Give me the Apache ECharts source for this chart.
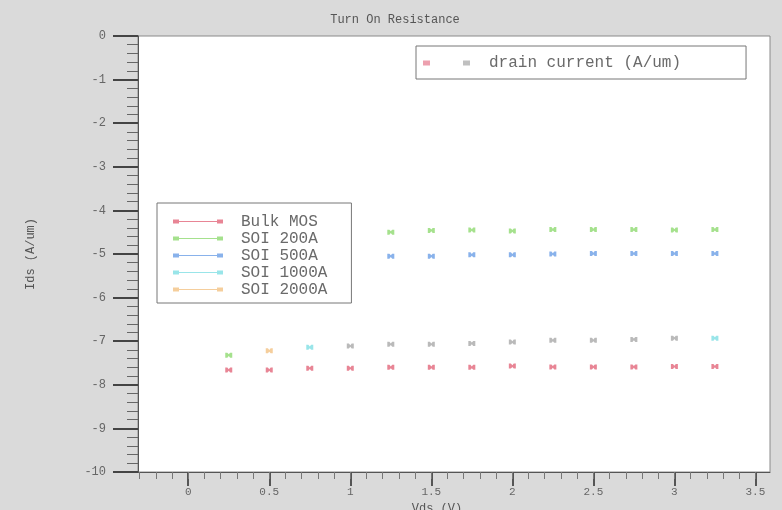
<!DOCTYPE html>
<html><head><meta charset="utf-8">
<script src="https://cdn.jsdelivr.net/npm/echarts@6/dist/echarts.min.js"></script>
<style>html,body{margin:0;padding:0;background:#dadada;}#c{width:782px;height:510px;}</style>
</head><body><div id="c"></div>
<script>
const xValues = [0.25,0.5,0.75,1.0,1.25,1.5,1.75,2.0,2.25,2.5,2.75,3.0,3.25];
const bulkMOS = [-7.66,-7.66,-7.62,-7.62,-7.60,-7.60,-7.60,-7.57,-7.59,-7.59,-7.59,-7.58,-7.58];
const soi200X = [0.25,1.25,1.5,1.75,2.0,2.25,2.5,2.75,3.0,3.25];
const soi200 = [-7.32,-4.50,-4.46,-4.45,-4.47,-4.44,-4.44,-4.44,-4.45,-4.44];
const soi500X = [1.25,1.5,1.75,2.0,2.25,2.5,2.75,3.0,3.25];
const soi500 = [-5.05,-5.05,-5.02,-5.02,-5.00,-4.99,-4.99,-4.99,-4.99];
const soi1000X = [0.75,3.25];
const soi1000 = [-7.14,-6.93];
const soi2000X = [0.5];
const soi2000 = [-7.22];
const drainX = [1.0,1.25,1.5,1.75,2.0,2.25,2.5,2.75,3.0];
const drain = [-7.11,-7.07,-7.07,-7.05,-7.02,-6.98,-6.98,-6.96,-6.93];
const xTicks = [0,0.5,1,1.5,2,2.5,3,3.5];
const yTicks = [0,-1,-2,-3,-4,-5,-6,-7,-8,-9,-10];
const xMinor = [];
for (let i = -3; i <= 35; i++) xMinor.push(i / 10);

const pair = (xs, ys) => xs.map((x, i) => [x, ys[i]]);
const mono = 'Liberation Mono';
const marker = 'path://M0,0L3,0L5,2L7,0L10,0L10,6L7,6L5,4L3,6L0,6Z';
const legendIcon = 'path://M0,3.5L50,3.5L50,4.5L0,4.5Z M0,2L6,2L6,6L0,6Z M44,2L50,2L50,6L44,6Z';
const colors = {bulk:'#e2667a', s200:'#8ed970', s500:'#6b9fe6', s1000:'#7fdfe3', s2000:'#f3c283', drain:'#a9a9a9'};

function sc(name, data, color) {
  return {type:'scatter', name, data, symbol: marker, symbolSize:[7,5],
    itemStyle:{color, opacity:0.8}, xAxisIndex:0, yAxisIndex:0, z:3};
}

const chart = echarts.init(document.getElementById('c'), null, {renderer:'canvas'});
chart.setOption({
  backgroundColor:'#dadada',
  animation:false,
  title:{text:'Turn On Resistance', left:390, textAlign:'center', top:9,
    textStyle:{fontFamily:mono, fontSize:12, fontWeight:'normal', color:'#555'}},
  grid:{left:138, top:36, right:12, bottom:38, show:true, backgroundColor:'#ffffff', borderColor:'#8a8a8a', borderWidth:1, containLabel:false, outerBoundsMode:'none'},
  legend:[{
    orient:'vertical', left:157, top:203, padding:[10,24,5,16], itemGap:0,
    itemWidth:50, itemHeight:8, backgroundColor:'#ffffff', borderColor:'#777', borderWidth:1,
    textStyle:{fontFamily:mono, fontSize:16, color:'#6a6a6a', lineHeight:17, padding:[0,0,0,13]},
    data:[
      {name:'Bulk MOS', icon:legendIcon},
      {name:'SOI 200A', icon:legendIcon},
      {name:'SOI 500A', icon:legendIcon},
      {name:'SOI 1000A', icon:legendIcon},
      {name:'SOI 2000A', icon:legendIcon}
    ]
  },{
    orient:'horizontal', left:416, top:46, padding:[8,65,7,7],
    itemWidth:47, itemHeight:5, backgroundColor:'#ffffff', borderColor:'#777', borderWidth:1,
    textStyle:{fontFamily:mono, fontSize:16, color:'#6a6a6a', lineHeight:18, padding:[0,0,0,14]},
    data:[{name:'drain current (A/um)', icon:'path://M0,0L7,0L7,5L0,5Z M40,0L47,0L47,5L40,5Z',
      itemStyle:{color:new echarts.graphic.LinearGradient(0,0,1,0,[{offset:0,color:'#e8889a'},{offset:0.5,color:'#e8889a'},{offset:0.5,color:'#b0b0b0'},{offset:1,color:'#b0b0b0'}])}}]
  }],
  xAxis:[{
    type:'value', min:-0.31, max:3.59, gridIndex:0, position:'bottom',
    name:'Vds (V)', nameLocation:'middle', nameGap:28,
    nameTextStyle:{fontFamily:mono, fontSize:12, color:'#555', padding:[0,34,0,0]},
    axisLine:{show:true, onZero:false, lineStyle:{color:'#555', width:1}},
    axisTick:{show:true, length:14, customValues:xTicks, lineStyle:{color:'#555', width:2}},
    axisLabel:{show:true, customValues:xTicks, margin:15, fontFamily:mono, fontSize:11, color:'#666'},
    splitLine:{show:false}
  },{
    type:'value', min:-0.31, max:3.59, gridIndex:0, position:'bottom',
    axisLine:{show:false, onZero:false},
    axisTick:{show:true, length:7, customValues:xMinor, lineStyle:{color:'#777', width:1}},
    axisLabel:{show:false}, splitLine:{show:false}
  }],
  yAxis:[{
    type:'value', min:-10, max:0, interval:1, gridIndex:0, position:'left',
    name:'Ids (A/um)', nameLocation:'middle', nameGap:101, nameRotate:90,
    nameTextStyle:{fontFamily:mono, fontSize:12, color:'#555'},
    axisLine:{show:true, onZero:false, lineStyle:{color:'#555', width:1}},
    axisTick:{show:true, length:25, lineStyle:{color:'#444', width:2}},
    minorTick:{show:true, splitNumber:5, length:11, lineStyle:{color:'#666', width:1}},
    axisLabel:{margin:32, fontFamily:mono, fontSize:12, color:'#666',
      formatter: v => yTicks.includes(v) ? String(v) : ''},
    splitLine:{show:false}
  }],
  series:[
    sc('Bulk MOS', pair(xValues, bulkMOS), colors.bulk),
    sc('SOI 200A', pair(soi200X, soi200), colors.s200),
    sc('SOI 500A', pair(soi500X, soi500), colors.s500),
    sc('SOI 1000A', pair(soi1000X, soi1000), colors.s1000),
    sc('SOI 2000A', pair(soi2000X, soi2000), colors.s2000),
    sc('drain current (A/um)', pair(drainX, drain), colors.drain)
  ]
});
</script></body></html>
